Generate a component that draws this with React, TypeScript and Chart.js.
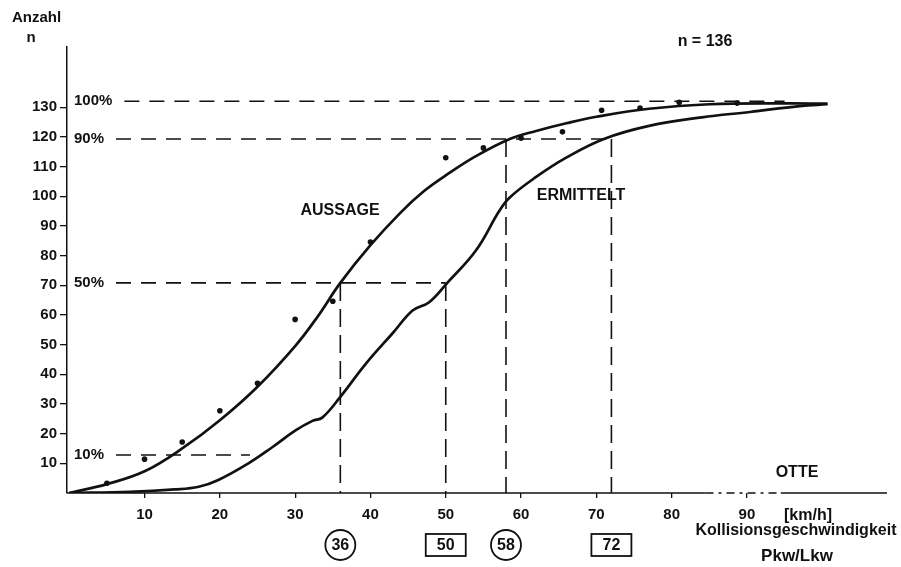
import React, { useEffect, useRef } from 'react';
import { Chart, registerables } from 'chart.js';

Chart.register(...registerables);

// ---- data ----
const xTicks = [10, 20, 30, 40, 50, 60, 70, 80, 90];
const yTicks = [10, 20, 30, 40, 50, 60, 70, 80, 90, 100, 110, 120, 130];

// "AUSSAGE" curve (stated collision speed, cumulative count)
const aussageX = [0, 5, 10, 15, 20, 25, 30, 33, 36, 40, 44, 47, 50, 54, 58.5, 62, 66, 70, 77, 85, 95, 100.7];
const aussageY = [0, 3, 7.3, 15, 24.5, 35.8, 49.5, 59.5, 70.8, 83.5, 94.5, 101.5, 107, 113.5, 119.3, 122, 124.6, 126.8, 129.5, 131, 131.3, 131.2];

// "ERMITTELT" curve (determined collision speed, cumulative count)
const ermitteltX = [0, 8, 14, 17.2, 19.8, 23.8, 27, 30, 32.3, 33.6, 36, 39.4, 43, 45.6, 47.8, 50.2, 54, 57.1, 58.5, 62, 66, 71, 77, 84, 90.4, 97, 100.7];
const ermitteltY = [0, 0.4, 1.2, 2.1, 4.4, 10, 15.5, 21, 24.3, 25.4, 32.4, 43.6, 54, 61.5, 64.3, 70.8, 81.7, 95, 99.6, 106.5, 113, 119.3, 123.7, 126.6, 128.4, 130.4, 131];

// measured points of the stated speeds
const dotX = [5, 10, 15, 20, 25, 30, 35, 40, 50, 55, 60, 65.5, 70.7, 75.8, 81, 88.7];
const dotY = [3.3, 11.4, 17.2, 27.7, 37, 58.5, 64.6, 84.6, 113, 116.3, 119.6, 121.7, 129, 129.7, 131.7, 131.4];

// percentile reference lines
const percentLabels = ['100%', '90%', '50%', '10%'];
const percentLevels = [132, 119.3, 70.8, 12.8];
const percentLineEnds = [95, 72, 50, 24];

// percentile speeds on the x axis
const markSpeeds = [36, 50, 58, 72];
const markLevels = [70.8, 70.8, 119.3, 119.3];
const markShapes = ['circle', 'box', 'circle', 'box'];

const FONT = '"Liberation Sans", Arial, Helvetica, sans-serif';
const INK = '#111111';

const overlay = {
  id: 'overlay',
  beforeDatasetsDraw(chart: any) {
    const { ctx } = chart;
    const xs = chart.scales.x;
    const ys = chart.scales.y;
    ctx.save();
    ctx.strokeStyle = INK;
    ctx.fillStyle = INK;
    ctx.lineWidth = 1.6;
    ctx.font = `bold 15px ${FONT}`;
    ctx.textBaseline = 'middle';
    ctx.textAlign = 'left';
    percentLabels.forEach((lab, i) => {
      const py = ys.getPixelForValue(percentLevels[i]);
      const lx = ys.right + 7;
      ctx.fillText(lab, lx, py);
      const w = ctx.measureText(lab).width;
      ctx.setLineDash([15, 10]);
      ctx.beginPath();
      ctx.moveTo(lx + w + 12, py);
      ctx.lineTo(xs.getPixelForValue(percentLineEnds[i]), py);
      ctx.stroke();
    });
    ctx.setLineDash([18, 8]);
    markSpeeds.forEach((s, i) => {
      const px = xs.getPixelForValue(s);
      ctx.beginPath();
      ctx.moveTo(px, ys.getPixelForValue(markLevels[i]));
      ctx.lineTo(px, ys.getPixelForValue(0));
      ctx.stroke();
    });
    ctx.restore();
  },
  afterDraw(chart: any) {
    const { ctx } = chart;
    const xs = chart.scales.x;
    const ys = chart.scales.y;
    ctx.save();
    ctx.strokeStyle = INK;
    ctx.fillStyle = INK;
    const by = ys.getPixelForValue(0);
    ctx.lineWidth = 1.5;
    ctx.setLineDash([]);
    ctx.beginPath();
    ctx.moveTo(xs.left, by);
    ctx.lineTo(xs.getPixelForValue(84.5), by);
    ctx.moveTo(xs.getPixelForValue(94.5), by);
    ctx.lineTo(xs.right, by);
    ctx.stroke();
    ctx.setLineDash([8, 5, 3, 5]);
    ctx.beginPath();
    ctx.moveTo(xs.getPixelForValue(84.5), by);
    ctx.lineTo(xs.getPixelForValue(94.5), by);
    ctx.stroke();
    ctx.setLineDash([]);

    const txt = (s: string, x: number, y: number, size: number, align: CanvasTextAlign = 'center') => {
      ctx.font = `bold ${size}px ${FONT}`;
      ctx.textAlign = align;
      ctx.textBaseline = 'middle';
      ctx.fillText(s, x, y);
    };

    txt('Anzahl', 12, 18, 15, 'left');
    txt('n', 31, 38, 15);
    txt('n = 136', 705, 42, 16);
    txt('AUSSAGE', 340, 211, 16);
    txt('ERMITTELT', 581, 196, 16);
    txt('OTTE', 797, 473, 16);
    txt('[km/h]', 808, 516, 16);
    txt('Kollisionsgeschwindigkeit', 796, 531, 16);
    txt('Pkw/Lkw', 797, 556, 17);

    ctx.lineWidth = 1.8;
    markSpeeds.forEach((s, i) => {
      const px = xs.getPixelForValue(s);
      const py = by + 52;
      if (markShapes[i] === 'circle') {
        ctx.beginPath();
        ctx.arc(px, py, 15, 0, Math.PI * 2);
        ctx.stroke();
      } else {
        ctx.strokeRect(px - 20, py - 11, 40, 22);
      }
      txt(String(s), px, py + 1, 16);
    });
    ctx.restore();
  },
};

export default function App() {
  const ref = useRef<HTMLCanvasElement | null>(null);
  useEffect(() => {
    if (!ref.current) return;
    const tickFont = { family: FONT, size: 15, weight: 'bold' as const };
    const chart = new Chart(ref.current, {
      type: 'line',
      data: {
        datasets: [
          {
            label: 'AUSSAGE',
            data: aussageX.map((x, i) => ({ x, y: aussageY[i] })),
            borderColor: INK,
            borderWidth: 2.7,
            pointRadius: 0,
            tension: 0.4,
            fill: false,
          },
          {
            label: 'ERMITTELT',
            data: ermitteltX.map((x, i) => ({ x, y: ermitteltY[i] })),
            borderColor: INK,
            borderWidth: 2.7,
            pointRadius: 0,
            tension: 0.4,
            fill: false,
          },
          {
            type: 'scatter',
            label: 'Punkte',
            data: dotX.map((x, i) => ({ x, y: dotY[i] })),
            backgroundColor: INK,
            borderColor: INK,
            borderWidth: 0,
            pointRadius: 2.8,
            showLine: false,
          } as any,
        ],
      },
      options: {
        animation: false,
        responsive: true,
        maintainAspectRatio: false,
        layout: { padding: { top: 47, right: 14, left: 0, bottom: 0 } },
        plugins: {
          legend: { display: false },
          tooltip: { enabled: false },
          title: { display: false },
        },
        scales: {
          x: {
            type: 'linear',
            min: -0.3,
            max: 108.6,
            afterBuildTicks: (s: any) => {
              s.ticks = xTicks.map((v) => ({ value: v }));
            },
            afterFit: (s: any) => {
              s.height = 74;
            },
            grid: { display: true, drawOnChartArea: false, drawTicks: true, tickLength: 5, color: INK, lineWidth: 1.3 },
            border: { display: false },
            ticks: { color: INK, font: tickFont, padding: 8, maxRotation: 0, autoSkip: false },
          },
          y: {
            type: 'linear',
            min: 0,
            max: 150.3,
            afterBuildTicks: (s: any) => {
              s.ticks = yTicks.map((v) => ({ value: v }));
            },
            afterFit: (s: any) => {
              s.width = 67;
            },
            grid: { display: true, drawOnChartArea: false, drawTicks: true, tickLength: 7, color: INK, lineWidth: 1.3 },
            border: { display: true, color: INK, width: 1.5 },
            ticks: { color: INK, font: tickFont, padding: 3, autoSkip: false },
          },
        },
      },
      plugins: [overlay],
    });
    return () => chart.destroy();
  }, []);
  return (
    <div style={{ position: 'fixed', left: 0, top: 0, width: 901, height: 567, background: '#fff' }}>
      <canvas ref={ref} />
    </div>
  );
}
